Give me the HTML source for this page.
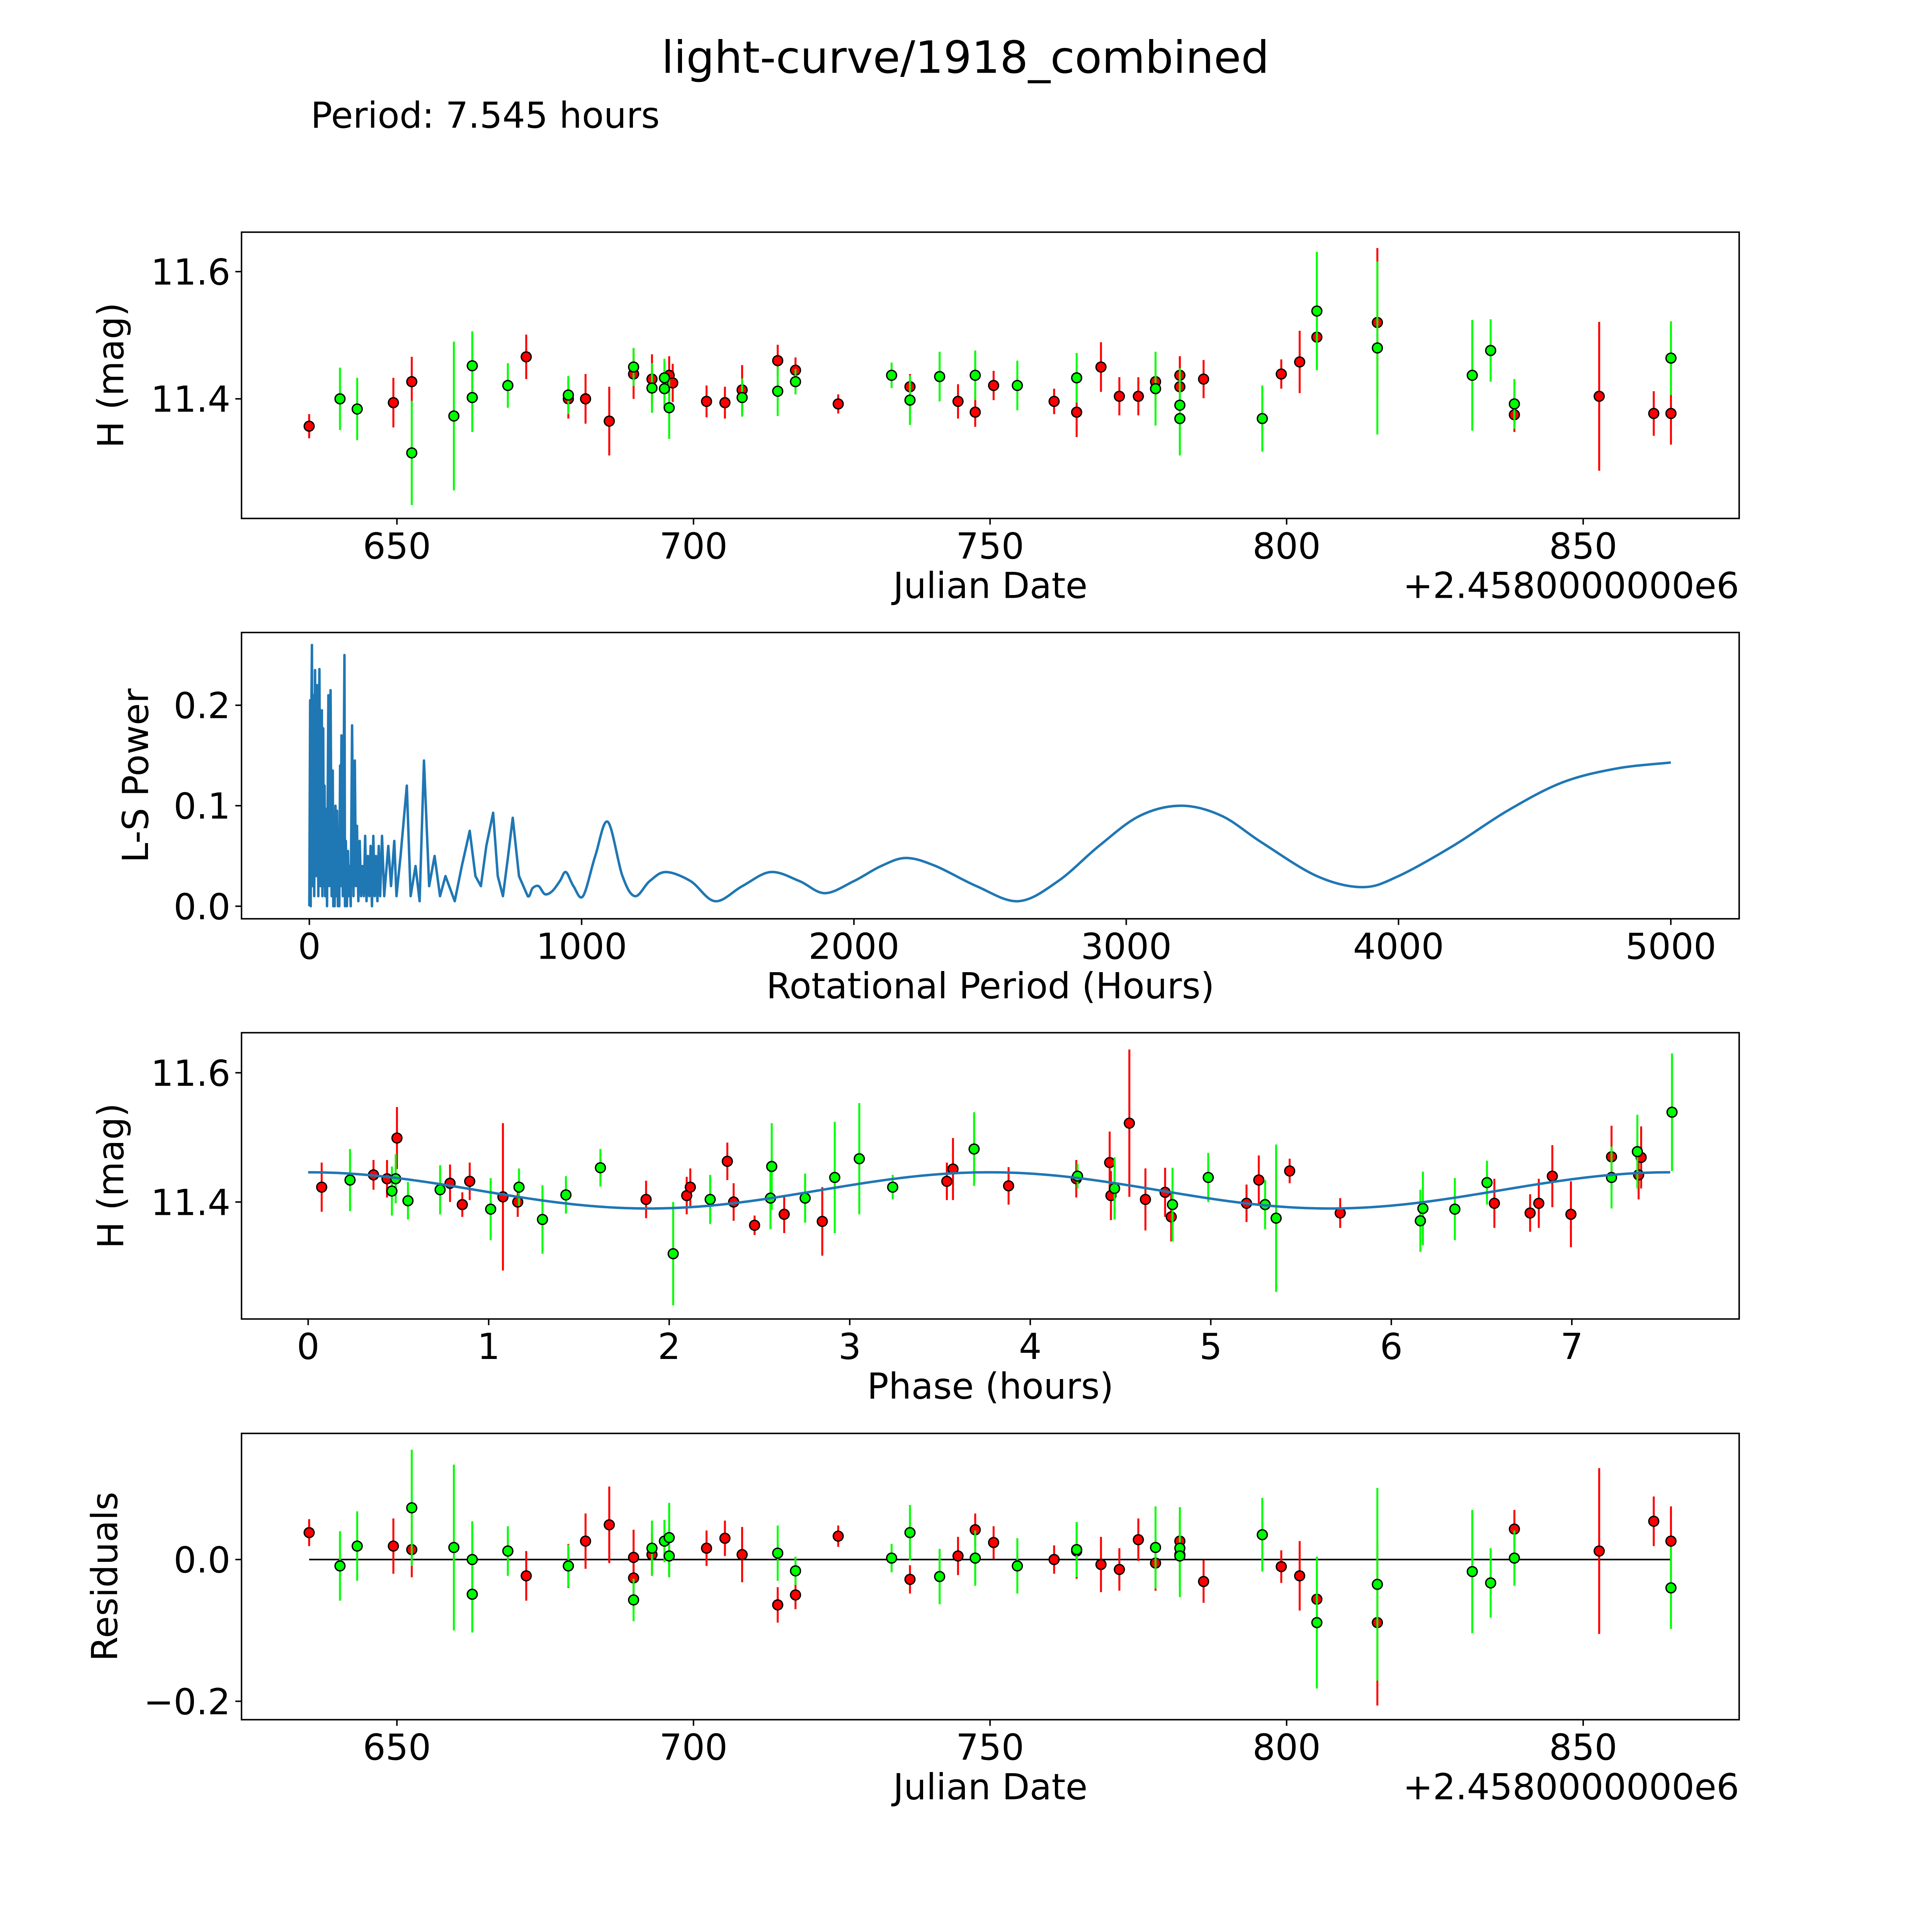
<!DOCTYPE html>
<html><head><meta charset="utf-8"><style>
html,body{margin:0;padding:0;background:#fff;overflow:hidden;width:100vw;height:100vh;}
svg{display:block;position:absolute;left:0;top:0;width:100vw;height:100vh;font-family:"DejaVu Sans","Liberation Sans",sans-serif;}
</style></head><body>
<svg id="fig" xmlns="http://www.w3.org/2000/svg" viewBox="0 0 1567 1567" preserveAspectRatio="none">
<rect x="0" y="0" width="1567" height="1567" fill="#fff"/>
<text x="783" y="59" font-size="36" text-anchor="middle">light-curve/1918_combined</text>
<text x="252" y="103.6" font-size="29">Period: 7.545 hours</text>
</svg>
<script>
// ---------- data: raw light curve (top panel) ----------
const topRedJD=[635.2,649.4,652.5,671.8,678.9,681.8,685.8,689.9,693.0,695.9,696.5,702.2,705.3,708.2,714.2,717.2,724.4,736.5,744.6,747.5,750.6,760.8,764.6,768.7,771.8,775.0,777.9,782.0,782.0,786.0,799.1,802.2,805.1,815.3,838.4,852.7,861.9,864.8];
const topRedMag=[11.357,11.394,11.427,11.466,11.400,11.400,11.365,11.439,11.431,11.437,11.425,11.396,11.394,11.414,11.460,11.445,11.392,11.419,11.396,11.379,11.421,11.396,11.379,11.450,11.404,11.404,11.427,11.437,11.419,11.431,11.439,11.458,11.497,11.520,11.375,11.404,11.377,11.377];
const topRedErr=[0.019,0.039,0.039,0.035,0.031,0.039,0.054,0.039,0.039,0.03,0.03,0.025,0.025,0.039,0.025,0.02,0.015,0.02,0.027,0.023,0.023,0.02,0.039,0.039,0.03,0.03,0.039,0.03,0.047,0.03,0.023,0.049,0.049,0.117,0.027,0.117,0.035,0.049];
const topGreenJD=[640.4,643.3,652.5,659.6,662.7,662.7,668.7,678.9,689.9,693.0,695.1,695.1,695.9,708.2,714.2,717.2,733.4,736.5,741.5,747.5,754.6,764.6,777.9,782.0,782.0,795.9,805.1,815.3,831.3,834.4,838.4,864.8];
const topGreenMag=[11.400,11.384,11.315,11.373,11.402,11.452,11.421,11.406,11.450,11.417,11.433,11.416,11.386,11.402,11.412,11.427,11.437,11.398,11.435,11.437,11.421,11.433,11.416,11.390,11.369,11.369,11.538,11.480,11.437,11.476,11.392,11.464];
const topGreenErr=[0.049,0.049,0.082,0.117,0.054,0.054,0.035,0.03,0.03,0.039,0.03,0.03,0.049,0.03,0.039,0.02,0.02,0.039,0.039,0.039,0.039,0.039,0.058,0.058,0.058,0.052,0.093,0.136,0.087,0.049,0.039,0.058];
// ---------- data: periodogram ----------
const lsPeriod=[0,3,5,7,9.6,12,15,18,21,25,29,33,37,41,46,48,51,53,56,58,61,65,70,74,78,82,86,88,91,93,96,99,102,105,108,110,113,115,118,123,129,131,134,138,142,145,148,152,157,162,167,171,175,180,185,190,195,200,205,210,215,220,225,230,235,240,245,250,255,260,267,275,290,300,312,320,335,358,372,390,405,421,440,460,480,500,534,560,589,610,630,650,675,692,711,730,747,770,802,820,842,865,892,920,942,970,1005,1050,1096,1150,1196,1250,1309,1400,1490,1590,1694,1800,1893,2000,2100,2192,2300,2450,2604,2750,2900,3050,3202,3350,3500,3700,3868,4000,4200,4400,4600,4800,5000];
const lsPower=[0,0.205,0,0.18,0.26,0.02,0.21,0.01,0.235,0.03,0.22,0.01,0.236,0.02,0.195,0.01,0.177,0.02,0.12,0.01,0.097,0,0.21,0.02,0.215,0.01,0.135,0,0.06,0,0.1,0.01,0.095,0,0.05,0,0.14,0.02,0.17,0.01,0.25,0,0.065,0,0.055,0.01,0.04,0,0.18,0.01,0.145,0.02,0.08,0.005,0.065,0.01,0.04,0.01,0.07,0.005,0.05,0.01,0.06,0,0.07,0.01,0.05,0.005,0.06,0.01,0.07,0.01,0.06,0.02,0.065,0.01,0.05,0.12,0.01,0.04,0.005,0.145,0.02,0.05,0.01,0.03,0.005,0.04,0.075,0.03,0.02,0.06,0.093,0.03,0.01,0.05,0.088,0.03,0.01,0.018,0.02,0.012,0.015,0.025,0.034,0.02,0.01,0.05,0.084,0.03,0.01,0.025,0.034,0.025,0.005,0.02,0.034,0.025,0.013,0.025,0.04,0.048,0.04,0.02,0.005,0.025,0.06,0.09,0.1,0.09,0.063,0.03,0.019,0.03,0.06,0.095,0.123,0.137,0.143];
// ---------- data: phased light curve ----------
const phRedPhase=[0.075,0.362,0.437,0.492,0.786,0.854,0.895,1.079,1.161,1.872,2.097,2.117,2.322,2.357,2.473,2.637,2.848,3.538,3.572,3.880,4.255,4.440,4.447,4.549,4.638,4.747,4.781,5.198,5.266,5.437,5.717,6.571,6.769,6.817,6.892,6.995,7.220,7.370,7.384];
const phRedMag=[11.423,11.442,11.436,11.499,11.429,11.396,11.432,11.408,11.400,11.404,11.410,11.423,11.463,11.400,11.364,11.381,11.370,11.432,11.451,11.425,11.436,11.461,11.410,11.522,11.404,11.415,11.377,11.398,11.434,11.448,11.383,11.398,11.383,11.398,11.440,11.381,11.470,11.442,11.469];
const phRedErr=[0.038,0.023,0.029,0.048,0.029,0.019,0.029,0.114,0.023,0.029,0.029,0.029,0.029,0.029,0.015,0.029,0.053,0.029,0.048,0.029,0.029,0.048,0.038,0.114,0.048,0.038,0.038,0.029,0.038,0.019,0.023,0.038,0.029,0.038,0.048,0.051,0.048,0.038,0.048];
const phGreenPhase=[0.232,0.464,0.485,0.553,0.731,1.011,1.168,1.298,1.428,1.619,2.022,2.227,2.561,2.568,2.753,2.917,3.053,3.238,3.689,4.262,4.467,4.788,4.986,5.301,5.362,6.161,6.175,6.352,6.530,7.220,7.363,7.555];
const phGreenMag=[11.434,11.417,11.436,11.402,11.419,11.389,11.423,11.373,11.411,11.453,11.320,11.404,11.406,11.455,11.406,11.438,11.467,11.423,11.482,11.440,11.421,11.396,11.438,11.396,11.375,11.371,11.390,11.389,11.430,11.438,11.478,11.539];
const phGreenErr=[0.048,0.038,0.038,0.029,0.038,0.048,0.029,0.053,0.029,0.029,0.080,0.038,0.048,0.067,0.038,0.086,0.086,0.019,0.057,0.019,0.048,0.057,0.038,0.038,0.114,0.048,0.057,0.048,0.034,0.048,0.057,0.091];
const modelMean=[11.418];
const modelAmp=[0.028];
const rotPeriod=[7.545];
// ---------- data: residuals ----------
const resRedJD=[635.2,649.4,652.5,671.8,678.9,681.8,685.8,689.9,689.9,693.0,695.9,702.2,705.3,708.2,714.2,717.2,724.4,736.5,744.6,747.5,750.6,760.8,764.6,768.7,771.8,775.0,777.9,782.0,782.0,786.0,799.1,802.2,805.1,815.3,838.4,852.7,861.9,864.8];
const resRedVal=[0.038,0.019,0.014,-0.023,-0.009,0.026,0.049,0.003,-0.026,0.007,0.005,0.016,0.030,0.007,-0.064,-0.050,0.033,-0.028,0.005,0.042,0.024,0,0.012,-0.007,-0.014,0.028,-0.005,0.026,0.007,-0.031,-0.010,-0.023,-0.056,-0.089,0.043,0.012,0.054,0.026];
const resGreenJD=[640.4,643.3,652.5,659.6,662.7,662.7,668.7,678.9,689.9,693.0,695.1,695.9,695.9,714.2,717.2,733.4,736.5,741.5,747.5,754.6,764.6,777.9,782.0,782.0,795.9,805.1,815.3,831.3,834.4,838.4,864.8];
const resGreenVal=[-0.009,0.019,0.073,0.017,0,-0.049,0.012,-0.009,-0.057,0.016,0.026,0.031,0.005,0.009,-0.016,0.002,0.038,-0.024,0.002,-0.009,0.014,0.017,0.016,0.005,0.035,-0.089,-0.035,-0.017,-0.033,0.002,-0.040];
const resGreenErr=[0.049,0.049,0.082,0.117,0.054,0.054,0.035,0.03,0.03,0.039,0.03,0.049,0.03,0.039,0.02,0.02,0.039,0.039,0.039,0.039,0.039,0.058,0.058,0.058,0.052,0.093,0.136,0.087,0.049,0.039,0.058];
// ---------- tick labels ----------
const jdTicks=[650,700,750,800,850];
const magTicks=[11.4,11.6];
const magTickLabels=["11.4","11.6"];
const lsXTicks=[0,1000,2000,3000,4000,5000];
const lsYTicks=[0,0.1,0.2];
const lsYTickLabels=["0.0","0.1","0.2"];
const phaseTicks=[0,1,2,3,4,5,6,7];
const resTicks=[-0.2,0];
const resTickLabels=["\u22120.2","0.0"];

const NS="http://www.w3.org/2000/svg";
const svg=document.getElementById('fig');
function E(tag,parent,attrs){const el=document.createElementNS(NS,tag);for(const k in attrs)el.setAttribute(k,attrs[k]);parent.appendChild(el);return el;}
const L=195.9,R=1410.6,H=232.2;
function makeAxes(name,top,xlim,ylim){
  const g=E('g',svg,{});
  
  
  const sx=v=>L+(v-xlim[0])/(xlim[1]-xlim[0])*(R-L);
  const sy=v=>top+H-(v-ylim[0])/(ylim[1]-ylim[0])*H;
  const plot=E('g',g,{});
  
  
  return {g,plot,sx,sy,top};
}
function frame(ax,name){
  const r=E('rect',ax.g,{x:L,y:ax.top,width:R-L,height:H,fill:'none',stroke:'#000','stroke-width':1.2});
  
  
}
function xTicks(ax,name,vals,labels){
  vals.forEach((v,i)=>{
    const x=ax.sx(v),yb=ax.top+H;
    const t=E('line',ax.g,{x1:x,x2:x,y1:yb,y2:yb+5,stroke:'#000','stroke-width':1.2});
    
    
    const tx=E('text',ax.g,{x:x,y:yb+32.5,'font-size':29,'text-anchor':'middle'});
    tx.textContent=labels?labels[i]:String(v);
    
    
  });
}
function yTicks(ax,name,vals,labels){
  vals.forEach((v,i)=>{
    const y=ax.sy(v);
    const t=E('line',ax.g,{x1:L-5,x2:L,y1:y,y2:y,stroke:'#000','stroke-width':1.2});
    
    
    const tx=E('text',ax.g,{x:L-9,y:y+10.5,'font-size':29,'text-anchor':'end'});
    tx.textContent=labels[i];
    
    
  });
}
function labels(ax,name,xl,yl,ylx){
  const a=E('text',ax.g,{x:(L+R)/2,y:ax.top+H+64.5,'font-size':29,'text-anchor':'middle'});
  a.textContent=xl;
  
  
  const cy=ax.top+H/2;
  const b=E('text',ax.g,{x:ylx,y:cy,'font-size':29,'text-anchor':'middle',transform:'rotate(-90 '+ylx+' '+cy+')'});
  b.textContent=yl;
  
  
}
function offsetText(ax,name){
  const o=E('text',ax.g,{x:R,y:ax.top+H+64.5,'font-size':29,'text-anchor':'end'});
  o.textContent='+2.4580000000e6';
  
  
}
function errSeries(ax,name,xs,ys,es,color){
  const g=E('g',ax.plot,{});
  
  
  const n=Math.min(xs.length,ys.length,es.length);
  for(let i=0;i<n;i++){
    const x=ax.sx(xs[i]);
    const bar=E('line',g,{x1:x,x2:x,y1:ax.sy(ys[i]-es[i]),y2:ax.sy(ys[i]+es[i]),stroke:color,'stroke-width':1.6});
    
    
  }
  for(let i=0;i<n;i++){
    const c=E('circle',g,{cx:ax.sx(xs[i]),cy:ax.sy(ys[i]),r:4,fill:color,stroke:'#000','stroke-width':1.1});
    
    
  }
}

// Panel 1: raw light curve
const a1=makeAxes('raw-light-curve-panel',188.3,[623.8,876.3],[11.212,11.662]);
errSeries(a1,'raw-red-series',topRedJD,topRedMag,topRedErr,'#ff0000');
errSeries(a1,'raw-green-series',topGreenJD,topGreenMag,topGreenErr,'#00ff00');
frame(a1,'raw');
xTicks(a1,'raw',jdTicks);
yTicks(a1,'raw',magTicks,magTickLabels);
labels(a1,'raw','Julian Date','H (mag)',100);
offsetText(a1,'raw');

// Panel 2: periodogram
const a2=makeAxes('periodogram-panel',513,[-249,5251],[-0.0125,0.2724]);
(function(){
  const n=Math.min(lsPeriod.length,lsPower.length);
  const pts=[];for(let i=0;i<n;i++)pts.push([a2.sx(lsPeriod[i]),a2.sy(lsPower[i])]);
  let d='M'+pts[0][0].toFixed(2)+','+pts[0][1].toFixed(2);
  for(let i=1;i<n;i++){
    if(lsPeriod[i]<=802||i<2){d+='L'+pts[i][0].toFixed(2)+','+pts[i][1].toFixed(2);continue;}
    const p0=pts[i-2],p1=pts[i-1],p2=pts[i],p3=pts[Math.min(i+1,n-1)];
    const c1x=p1[0]+(p2[0]-p0[0])/6,c1y=p1[1]+(p2[1]-p0[1])/6;
    const c2x=p2[0]-(p3[0]-p1[0])/6,c2y=p2[1]-(p3[1]-p1[1])/6;
    d+='C'+c1x.toFixed(2)+','+c1y.toFixed(2)+' '+c2x.toFixed(2)+','+c2y.toFixed(2)+' '+p2[0].toFixed(2)+','+p2[1].toFixed(2);
  }
  const p=E('path',a2.plot,{d:d,fill:'none',stroke:'#1f77b4','stroke-width':2,'stroke-linejoin':'round'});
  
  
})();
frame(a2,'periodogram');
xTicks(a2,'periodogram',lsXTicks);
yTicks(a2,'periodogram',lsYTicks,lsYTickLabels);
labels(a2,'periodogram','Rotational Period (Hours)','L-S Power',120);

// Panel 3: phased
const a3=makeAxes('phased-light-curve-panel',837.6,[-0.369,7.927],[11.219,11.662]);
errSeries(a3,'phased-red-series',phRedPhase,phRedMag,phRedErr,'#ff0000');
errSeries(a3,'phased-green-series',phGreenPhase,phGreenMag,phGreenErr,'#00ff00');
(function(){
  let d='';const P=rotPeriod[0];
  for(let i=0;i<=300;i++){const ph=P*i/300;const m=modelMean[0]+modelAmp[0]*Math.cos(4*Math.PI*ph/P);
    d+=(i?'L':'M')+a3.sx(ph).toFixed(2)+','+a3.sy(m).toFixed(2);}
  const p=E('path',a3.plot,{d:d,fill:'none',stroke:'#1f77b4','stroke-width':2});
  
  
})();
frame(a3,'phased');
xTicks(a3,'phased',phaseTicks);
yTicks(a3,'phased',magTicks,magTickLabels);
labels(a3,'phased','Phase (hours)','H (mag)',100);

// Panel 4: residuals
const a4=makeAxes('residuals-panel',1162.6,[623.8,876.3],[-0.226,0.178]);
(function(){
  const x0=Math.min(...resRedJD,...resGreenJD),x1=Math.max(...resRedJD,...resGreenJD);
  const z=E('line',a4.plot,{x1:a4.sx(x0),x2:a4.sx(x1),y1:a4.sy(0),y2:a4.sy(0),stroke:'#000','stroke-width':1.3});
  
  
})();
errSeries(a4,'residual-red-series',resRedJD,resRedVal,topRedErr,'#ff0000');
errSeries(a4,'residual-green-series',resGreenJD,resGreenVal,resGreenErr,'#00ff00');
frame(a4,'residuals');
xTicks(a4,'residuals',jdTicks);
yTicks(a4,'residuals',resTicks,resTickLabels);
labels(a4,'residuals','Julian Date','Residuals',95);
offsetText(a4,'residuals');
</script>
</body></html>
